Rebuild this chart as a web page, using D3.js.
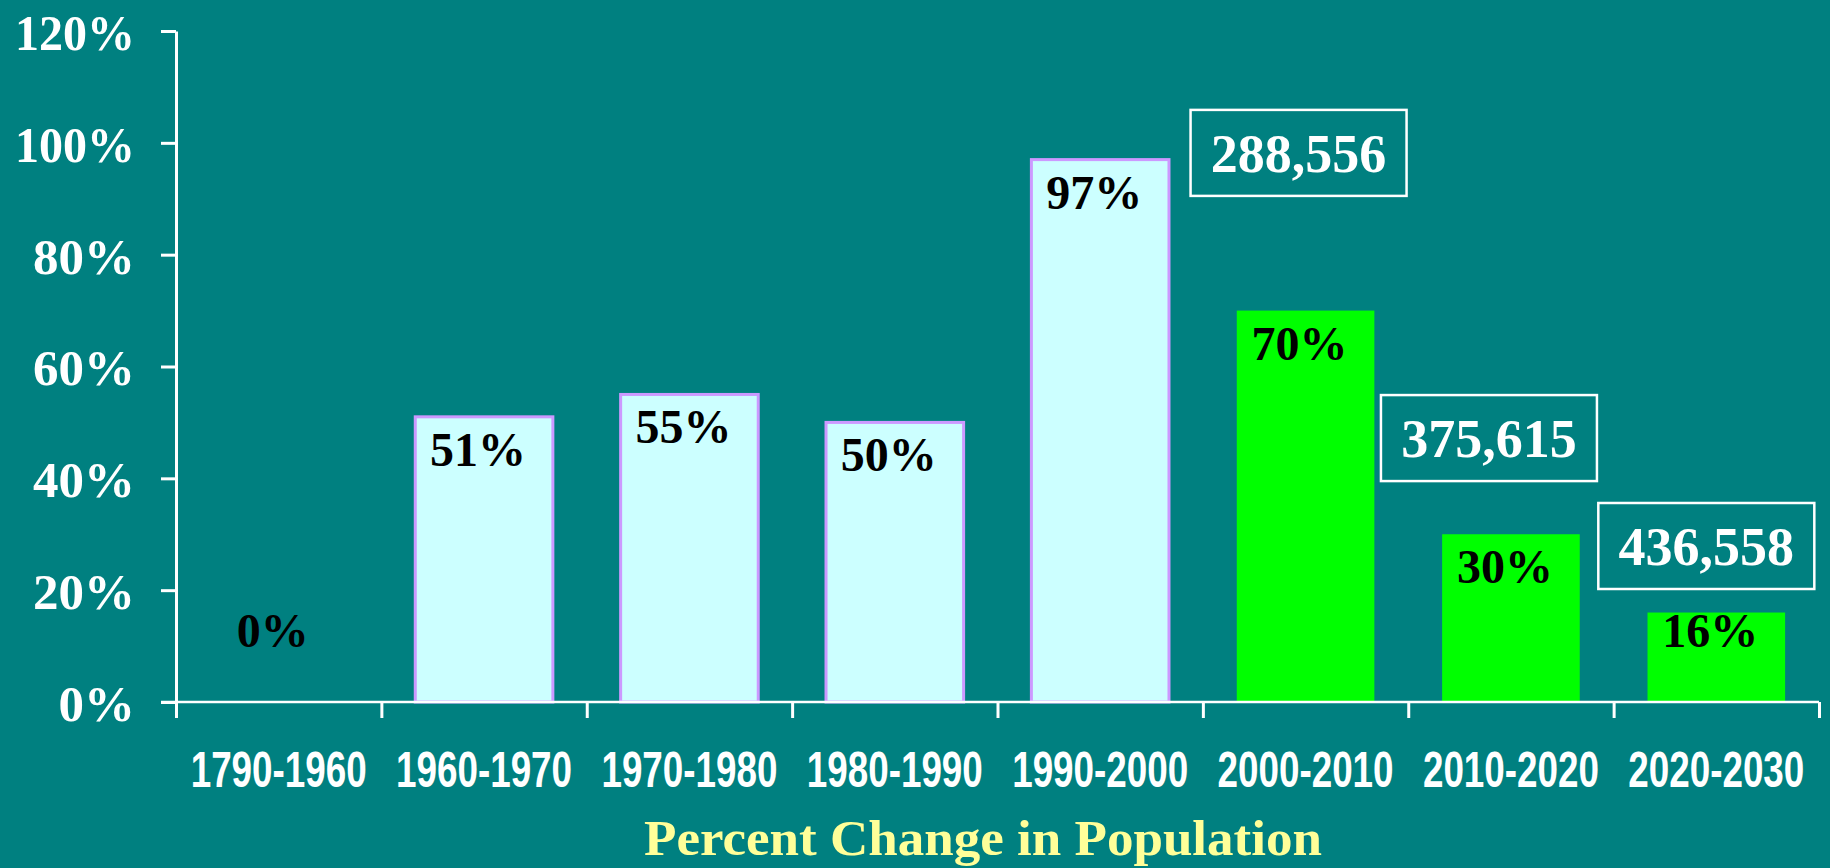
<!DOCTYPE html>
<html>
<head>
<meta charset="utf-8">
<script src="https://cdn.jsdelivr.net/npm/d3@7"></script>
<style>
  body { margin: 0; background: #008080; }
  svg { display: block; }
</style>
</head>
<body>
<div id="chart-area"></div>
<script>
// Data
var categories = ["1790-1960", "1960-1970", "1970-1980", "1980-1990",
    "1990-2000", "2000-2010", "2010-2020", "2020-2030"];
var changes = [0, 51, 55, 50, 97, 70, 30, 16];
var projected = [false, false, false, false, false, true, true, true];
var yTicks = [0, 20, 40, 60, 80, 100, 120];

// population callouts
var calloutCats = ["2000-2010", "2010-2020", "2020-2030"];
var calloutText = ["288,556", "375,615", "436,558"];

// callout placement (value units for box centre, px nudge from band centre)
var calloutAt = [98.2, 47.2, 27.9];
var calloutNudge = [-7, -22, -10];

//Margins
var margin = { left:176, right:11, top:31, bottom:166 },
    width = 1830 - margin.left - margin.right,
    height = 868 - margin.top - margin.bottom;

var svg = d3.select("#chart-area").append("svg")
    .attr("width", 1830)
    .attr("height", 868);

svg.append("rect")
    .attr("width", 1830)
    .attr("height", 868)
    .attr("fill", "#008080");

var g = svg.append("g")
    .attr("transform", "translate(" + margin.left + "," + margin.top + ")");

//scales
var x = d3.scaleBand()
    .domain(categories)
    .range([0, width])
    .paddingInner(0.33)
    .paddingOuter(0.165);
var xEdge = d3.scaleLinear()
    .domain([0, categories.length])
    .range([0, width]);
var y = d3.scaleLinear()
    .domain([0, 120])
    .range([height, 0]);

//bars
g.selectAll(".bar")
    .data(categories)
    .enter().append("rect")
    .attr("class", "bar")
    .attr("x", function(d){ return x(d); })
    .attr("width", x.bandwidth())
    .attr("y", function(d, i){ return y(changes[i]); })
    .attr("height", function(d, i){ return y(0) - y(changes[i]); })
    .attr("fill", function(d, i){ return projected[i] ? "#00ff00" : "#ccffff"; })
    .attr("stroke", function(d, i){ return projected[i] ? "none" : "#cc99ff"; })
    .attr("stroke-width", 3)
    .style("display", function(d, i){ return changes[i] > 0 ? null : "none"; });

//bar labels
g.selectAll(".barLabel")
    .data(categories)
    .enter().append("text")
    .attr("class", "barLabel")
    .attr("x", function(d){ return x(d) + x.bandwidth() / 2 - 6; })
    .attr("y", function(d, i){ return Math.min(y(changes[i]) + 49, y(0) - 55); })
    .attr("text-anchor", "middle")
    .attr("font-family", "'Liberation Serif', 'Times New Roman', serif")
    .attr("font-weight", "bold")
    .attr("font-size", "48px")
    .attr("fill", "#000")
    .text(function(d, i){ return changes[i] + "%"; });

//X Axis - boundary ticks
var xAxis = g.append("g")
    .attr("class", "x axis")
    .attr("transform", "translate(0," + height + ")")
    .call(d3.axisBottom(xEdge).ticks(categories.length).tickSize(16)
        .tickSizeOuter(0).tickFormat(""));
xAxis.select(".domain")
    .attr("d", "M-15,0H" + width)
    .attr("stroke", "#fff")
    .attr("stroke-width", 2.5);
xAxis.selectAll(".tick line").attr("stroke", "#fff").attr("stroke-width", 3);

//X labels (a bit stretched vertically like the original)
var xLabels = g.append("g")
    .attr("transform", "translate(0," + height + ")")
    .call(d3.axisBottom(x).tickSize(0));
xLabels.select(".domain").remove();
xLabels.selectAll("text")
    .attr("y", 85 / 1.15)
    .attr("dy", null)
    .attr("transform", "scale(1,1.15)")
    .attr("fill", "#fff")
    .attr("font-family", "'Liberation Sans Narrow', 'Arial Narrow', 'Liberation Sans', sans-serif")
    .attr("font-weight", "bold")
    .attr("font-size", "44px")
    .attr("textLength", 176)
    .attr("lengthAdjust", "spacingAndGlyphs");

//Y axis
var yAxis = g.append("g")
    .attr("class", "y axis")
    .call(d3.axisLeft(y).tickValues(yTicks).tickSize(15).tickSizeOuter(0)
        .tickPadding(26).tickFormat(function(d){ return d + "%"; }));
yAxis.select(".domain").attr("stroke", "#fff").attr("stroke-width", 3);
yAxis.selectAll(".tick line").attr("stroke", "#fff").attr("stroke-width", 3);
yAxis.selectAll("text")
    .attr("fill", "#fff")
    .attr("dy", "0.36em")
    .attr("font-family", "'Liberation Serif', 'Times New Roman', serif")
    .attr("font-weight", "bold")
    .attr("font-size", "51px");
yAxis.selectAll("text")
    .filter(function(d){ return d >= 100; })
    .attr("textLength", 120)
    .attr("lengthAdjust", "spacingAndGlyphs");

//callouts
var boxW = 216, boxH = 86;
var callouts = g.selectAll(".callout")
    .data(calloutCats)
    .enter().append("g")
    .attr("class", "callout")
    .attr("transform", function(d, i){
        var cx = x(d) + x.bandwidth() / 2 + calloutNudge[i];
        return "translate(" + cx + "," + y(calloutAt[i]) + ")";
    });
callouts.append("rect")
    .attr("x", -boxW / 2)
    .attr("y", -boxH / 2)
    .attr("width", boxW)
    .attr("height", boxH)
    .attr("fill", "#008080")
    .attr("stroke", "#fff")
    .attr("stroke-width", 2.5);
callouts.append("text")
    .attr("text-anchor", "middle")
    .attr("dy", "0.35em")
    .attr("fill", "#fff")
    .attr("font-family", "'Liberation Serif', 'Times New Roman', serif")
    .attr("font-weight", "bold")
    .attr("font-size", "54px")
    .text(function(d, i){ return calloutText[i]; });

//Axis title
g.append("text")
    .attr("x", 983 - margin.left)
    .attr("y", 855 - margin.top)
    .attr("text-anchor", "middle")
    .attr("fill", "#ffff99")
    .attr("font-family", "'Liberation Serif', 'Times New Roman', serif")
    .attr("font-weight", "bold")
    .attr("font-size", "50px")
    .attr("textLength", 678)
    .attr("lengthAdjust", "spacingAndGlyphs")
    .text("Percent Change in Population");
</script>
</body>
</html>
